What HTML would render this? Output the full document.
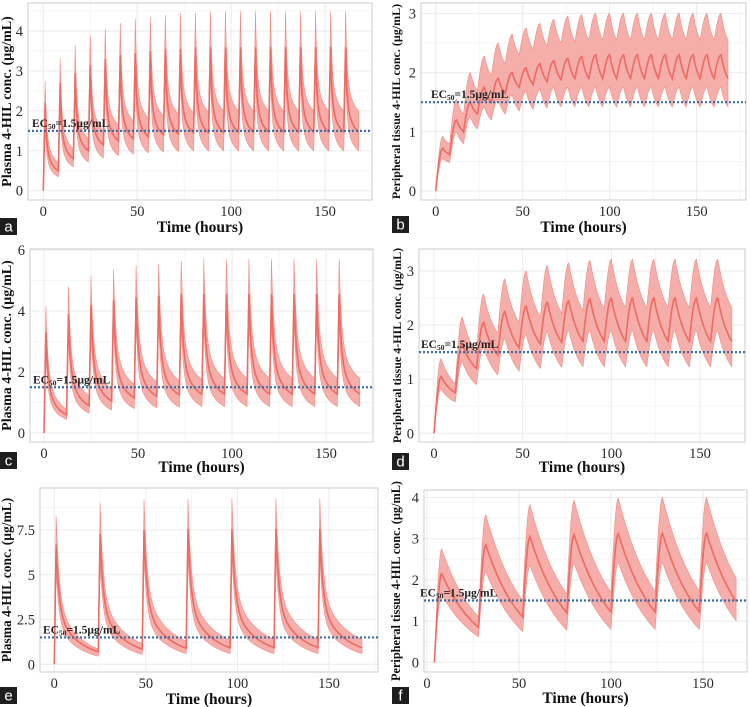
<!DOCTYPE html>
<html><head><meta charset="utf-8"><style>
html,body{margin:0;padding:0;background:#fff;width:750px;height:707px;overflow:hidden}
svg{display:block}
text{font-family:"Liberation Serif",serif}
</style></head><body>
<svg id="fig" width="750" height="707" viewBox="0 0 750 707" xmlns="http://www.w3.org/2000/svg"></svg>
<script>
// ---- data (per-dose peak/trough values) ----
const aMedPeak=[2.2,2.7,2.95,3.15,3.3,3.4,3.45,3.5,3.55,3.55,3.6,3.6,3.6,3.6,3.6,3.6,3.6,3.6,3.6,3.6,3.6];
const aMedTrough=[0.5,0.8,1.0,1.15,1.25,1.3,1.35,1.4,1.42,1.45,1.45,1.46,1.46,1.47,1.47,1.47,1.47,1.47,1.47,1.47,1.47];
const aHiPeak=[2.75,3.3,3.65,3.9,4.05,4.2,4.3,4.35,4.4,4.45,4.45,4.5,4.5,4.5,4.5,4.5,4.5,4.5,4.5,4.5,4.5];
const aHiTrough=[0.7,1.05,1.3,1.5,1.65,1.75,1.82,1.88,1.92,1.95,1.97,2.0,2.0,2.0,2.0,2.0,2.0,2.0,2.0,2.0,2.0];
const aLoPeak=[1.7,2.1,2.4,2.6,2.7,2.8,2.85,2.9,2.95,3.0,3.0,3.0,3.0,3.0,3.0,3.0,3.0,3.0,3.0,3.0,3.0];
const aLoTrough=[0.35,0.6,0.72,0.82,0.88,0.92,0.95,0.97,0.98,1.0,1.0,1.0,1.0,1.0,1.0,1.0,1.0,1.0,1.0,1.0,1.0];

const bMedPeak=[0.72,1.2,1.5,1.75,1.9,2.0,2.08,2.15,2.2,2.24,2.27,2.3,2.3,2.3,2.3,2.3,2.3,2.3,2.3,2.3,2.3];
const bMedTrough=[0.62,1.0,1.3,1.5,1.65,1.75,1.8,1.85,1.88,1.9,1.9,1.9,1.9,1.9,1.9,1.9,1.9,1.9,1.9,1.9,1.9];
const bHiPeak=[0.92,1.55,2.0,2.28,2.5,2.65,2.75,2.83,2.9,2.95,2.98,3.0,3.0,3.0,3.0,3.0,3.0,3.0,3.0,3.0,3.0];
const bHiTrough=[0.8,1.3,1.7,1.95,2.15,2.3,2.4,2.45,2.5,2.52,2.55,2.55,2.55,2.55,2.55,2.55,2.55,2.55,2.55,2.55,2.55];
const bLoPeak=[0.55,1.0,1.25,1.42,1.55,1.62,1.68,1.72,1.75,1.75,1.75,1.75,1.75,1.75,1.75,1.75,1.75,1.75,1.75,1.75,1.75];
const bLoTrough=[0.48,0.8,1.05,1.2,1.3,1.35,1.38,1.4,1.42,1.42,1.42,1.42,1.42,1.42,1.42,1.42,1.42,1.42,1.42,1.42,1.42];

const cMedPeak=[3.3,3.9,4.2,4.35,4.45,4.5,4.55,4.55,4.55,4.55,4.55,4.55,4.55,4.55];
const cMedTrough=[0.6,0.9,1.05,1.15,1.2,1.25,1.27,1.28,1.28,1.28,1.28,1.28,1.28,1.28];
const cHiPeak=[4.15,4.8,5.15,5.35,5.5,5.55,5.65,5.7,5.7,5.7,5.7,5.7,5.7,5.7];
const cHiTrough=[0.78,1.22,1.45,1.6,1.68,1.72,1.75,1.78,1.8,1.8,1.8,1.8,1.8,1.8];
const cLoPeak=[2.6,3.1,3.4,3.55,3.6,3.62,3.65,3.65,3.65,3.65,3.65,3.65,3.65,3.65];
const cLoTrough=[0.45,0.65,0.75,0.8,0.83,0.85,0.87,0.87,0.87,0.87,0.87,0.87,0.87,0.87];

const dMedPeak=[1.05,1.65,2.05,2.25,2.35,2.42,2.45,2.48,2.5,2.5,2.5,2.5,2.5,2.5];
const dMedTrough=[0.75,1.2,1.45,1.58,1.65,1.68,1.7,1.7,1.7,1.7,1.7,1.7,1.7,1.7];
const dHiPeak=[1.38,2.15,2.57,2.85,3.0,3.1,3.15,3.2,3.22,3.22,3.22,3.22,3.22,3.22];
const dHiTrough=[0.92,1.5,1.85,2.05,2.15,2.22,2.27,2.3,2.32,2.32,2.32,2.32,2.32,2.32];
const dLoPeak=[0.82,1.32,1.6,1.75,1.83,1.88,1.9,1.9,1.9,1.9,1.9,1.9,1.9,1.9];
const dLoTrough=[0.58,0.9,1.08,1.15,1.2,1.22,1.23,1.23,1.23,1.23,1.23,1.23,1.23,1.23];

const eMedPeak=[6.7,7.3,7.5,7.55,7.55,7.55,7.55];
const eMedTrough=[0.7,0.85,0.9,0.92,0.93,0.93,0.93];
const eHiPeak=[8.3,9.0,9.2,9.25,9.25,9.25,9.25];
const eHiTrough=[0.85,1.15,1.3,1.35,1.4,1.4,1.4];
const eLoPeak=[5.3,5.8,6.0,6.05,6.05,6.05,6.05];
const eLoTrough=[0.45,0.55,0.6,0.6,0.6,0.6,0.6];

const fMedPeak=[2.15,2.85,3.05,3.1,3.12,3.13,3.13];
const fMedTrough=[0.85,1.1,1.2,1.22,1.22,1.23,1.23];
const fHiPeak=[2.75,3.58,3.82,3.93,3.98,4.0,4.0];
const fHiTrough=[1.1,1.5,1.65,1.7,1.72,1.73,1.75];
const fLoPeak=[1.65,2.2,2.35,2.4,2.42,2.42,2.42];
const fLoTrough=[0.62,0.75,0.78,0.8,0.8,0.8,0.8];

const xTicks=[0,50,100,150];
const aYTicks=[0,1,2,3,4], bYTicks=[0,1,2,3], cYTicks=[0,2,4,6], dYTicks=[0,1,2,3], eYTicks=[0,2.5,5,7.5], fYTicks=[0,1,2,3,4];
const ec50=1.5;

// ---- layout ----
const panels=[
 {id:'a',tau:8,off:0,kind:'plasma',k1:10,rise:1,med:[aMedPeak,aMedTrough],hi:[aHiPeak,aHiTrough],lo:[aLoPeak,aLoTrough],yt:aYTicks,
  box:[28,3,372,200],x0:43.3,x150:325,y0:190.7,ppu:39.9,ylab:'Plasma 4-HIL conc. (µg/mL)',ylx:8,yls:14,lab:[0,218],titleY:232,ecx:32},
 {id:'b',tau:8,off:0,kind:'tissue',k1:1.2,rise:4,med:[bMedPeak,bMedTrough],hi:[bHiPeak,bHiTrough],lo:[bLoPeak,bLoTrough],yt:bYTicks,
  box:[421,3,746,200],x0:435.7,x150:696.7,y0:191,ppu:59.2,ylab:'Peripheral tissue 4-HIL conc. (µg/mL)',ylx:397,yls:12,lab:[392,216],titleY:232,ecx:431},
 {id:'c',tau:12,off:0,kind:'plasma',k1:10,rise:1,med:[cMedPeak,cMedTrough],hi:[cHiPeak,cHiTrough],lo:[cLoPeak,cLoTrough],yt:cYTicks,
  box:[30,249,373,442],x0:44,x150:326,y0:433,ppu:30.5,ylab:'Plasma 4-HIL conc. (µg/mL)',ylx:8,yls:14,lab:[0,452],titleY:472,ecx:33},
 {id:'d',tau:12,off:0,kind:'tissue',k1:1.2,rise:4,med:[dMedPeak,dMedTrough],hi:[dHiPeak,dHiTrough],lo:[dLoPeak,dLoTrough],yt:dYTicks,
  box:[419,249,745,442],x0:434,x150:700,y0:433.3,ppu:54.1,ylab:'Peripheral tissue 4-HIL conc. (µg/mL)',ylx:398,yls:12,lab:[392,453],titleY:472,ecx:421},
 {id:'e',tau:24,off:0,kind:'plasma',k1:14,rise:1,med:[eMedPeak,eMedTrough],hi:[eHiPeak,eHiTrough],lo:[eLoPeak,eLoTrough],yt:eYTicks,
  box:[40,488,378,672],x0:54.3,x150:329,y0:664.3,ppu:17.9,ylab:'Plasma 4-HIL conc. (µg/mL)',ylx:8,yls:13.5,lab:[0,687],titleY:704,ecx:43},
 {id:'f',tau:24,off:4,kind:'tissue',k1:1.0,rise:4,med:[fMedPeak,fMedTrough],hi:[fHiPeak,fHiTrough],lo:[fLoPeak,fLoTrough],yt:fYTicks,
  box:[424,490,747,672],x0:427,x150:703,y0:662.3,ppu:41.2,ylab:'Peripheral tissue 4-HIL conc. (µg/mL)',ylx:397,yls:12.3,lab:[392,687],titleY:703,ecx:420}
];
const NS='http://www.w3.org/2000/svg';
const svg=document.getElementById('fig');
function mk(tag,attrs,parent){const e=document.createElementNS(NS,tag);for(const k in attrs)e.setAttribute(k,attrs[k]);(parent||svg).appendChild(e);return e;}

function series(P,pair){
  const [peaks,troughs]=pair;const pts=[];const tmax=168;
  for(let i=0;i<peaks.length;i++){
    const st=P.off+i*P.tau;if(st>=tmax)break;
    const prev=i===0?0:troughs[i-1];const pk=peaks[i],tr=troughs[i];
    const r=P.rise;
    for(let s=0;s<=r;s+=r/8){
      const u=s/r;const e=P.kind==='plasma'?u:Math.sin(Math.PI/2*u);
      pts.push([st+s,prev+(pk-prev)*e]);
    }
    const T=P.tau-r;
    const f=u=>P.kind==='plasma'?(0.6*Math.exp(-P.k1*u)+0.4*Math.exp(-1.8*u)):Math.exp(-P.k1*u);
    const f1=f(1);
    for(let j=1;j<=40;j++){
      const u=j/40;const t=st+r+u*T;if(t>tmax)break;
      pts.push([t,tr+(pk-tr)*(f(u)-f1)/(1-f1)]);
    }
  }
  return pts;
}

panels.forEach(P=>{
  const g=mk('g',{});
  
  
  const X=t=>P.x0+t*(P.x150-P.x0)/150;
  const Y=v=>P.y0-v*P.ppu;
  const [bx1,by1,bx2,by2]=P.box;
  const clipId='clip'+P.id;
  const cp=mk('clipPath',{id:clipId},g);mk('rect',{x:bx1,y:by1,width:bx2-bx1,height:by2-by1},cp);
  const step=P.yt[1]-P.yt[0];
  for(let v=0;v<=P.yt[P.yt.length-1]+step;v+=step/2){const yy=Y(v);if(yy<by1)break;
    const l=mk('line',{x1:bx1,x2:bx2,y1:yy,y2:yy,stroke:Math.abs(v/step-Math.round(v/step))<1e-6?'#ebebeb':'#f5f5f5','stroke-width':1},g);
    }
  for(let t=0;t<=175;t+=25){const xx=X(t);if(xx>bx2)break;
    const l=mk('line',{x1:xx,x2:xx,y1:by1,y2:by2,stroke:t%50===0?'#ebebeb':'#f5f5f5','stroke-width':1},g);
    }
  const frame=mk('rect',{x:bx1,y:by1,width:bx2-bx1,height:by2-by1,fill:'none',stroke:'#d4d4d4','stroke-width':1.2},g);
  
  const hi=series(P,P.hi),lo=series(P,P.lo),md=series(P,P.med);
  const bandD='M'+hi.map(p=>X(p[0]).toFixed(1)+','+Y(p[1]).toFixed(1)).join('L')+'L'+lo.slice().reverse().map(p=>X(p[0]).toFixed(1)+','+Y(p[1]).toFixed(1)).join('L')+'Z';
  const band=mk('path',{d:bandD,fill:'#f4a09b','fill-opacity':0.85,stroke:'#f08a84','stroke-width':0.6,'clip-path':'url(#'+clipId+')'},g);
  
  const med=mk('path',{d:'M'+md.map(p=>X(p[0]).toFixed(1)+','+Y(p[1]).toFixed(1)).join('L'),fill:'none',stroke:'#ee6a62','stroke-width':1.6,'clip-path':'url(#'+clipId+')'},g);
  
  const ey=Y(ec50);
  const el=mk('line',{x1:bx1,x2:bx2,y1:ey,y2:ey,stroke:'#3b6ea5','stroke-width':2.2,'stroke-dasharray':'2,2'},g);
  
  const et=mk('text',{x:P.ecx,y:ey-4,'font-size':11.5,'font-weight':'bold',fill:'#222'},g);
  
  et.innerHTML='EC<tspan font-size="7.5" dy="2">50</tspan><tspan dy="-2">=1.5µg/mL</tspan>';
  P.yt.forEach(v=>{const t=mk('text',{x:bx1-5,y:Y(v)+5,'font-size':14.5,'text-anchor':'end',fill:'#2a2a2a'},g);
    t.textContent=v;});
  xTicks.forEach(v=>{const t=mk('text',{x:X(v),y:by2+16,'font-size':14.5,'text-anchor':'middle',fill:'#2a2a2a'},g);
    t.textContent=v;});
  const xt=mk('text',{x:(bx1+bx2)/2,y:P.titleY,'font-size':15.5,'font-weight':'bold','text-anchor':'middle',fill:'#111'},g);
  xt.textContent='Time (hours)';
  const cy=(by1+by2)/2;
  const yt=mk('text',{x:P.ylx,y:cy,'font-size':P.yls,'font-weight':'bold','text-anchor':'middle',fill:'#111',transform:'rotate(-90 '+P.ylx+' '+cy+')','dominant-baseline':'middle'},g);
  yt.textContent=P.ylab;
  const lb=mk('rect',{x:P.lab[0],y:P.lab[1],width:17,height:17,fill:'#1e1e1e'},g);
  
  const lt=mk('text',{x:P.lab[0]+8.5,y:P.lab[1]+13.5,'font-size':15,'text-anchor':'middle',fill:'#fff'},g);
  lt.style.fontFamily='"Liberation Sans",sans-serif';
  lt.textContent=P.id;
});
</script>
</body></html>
